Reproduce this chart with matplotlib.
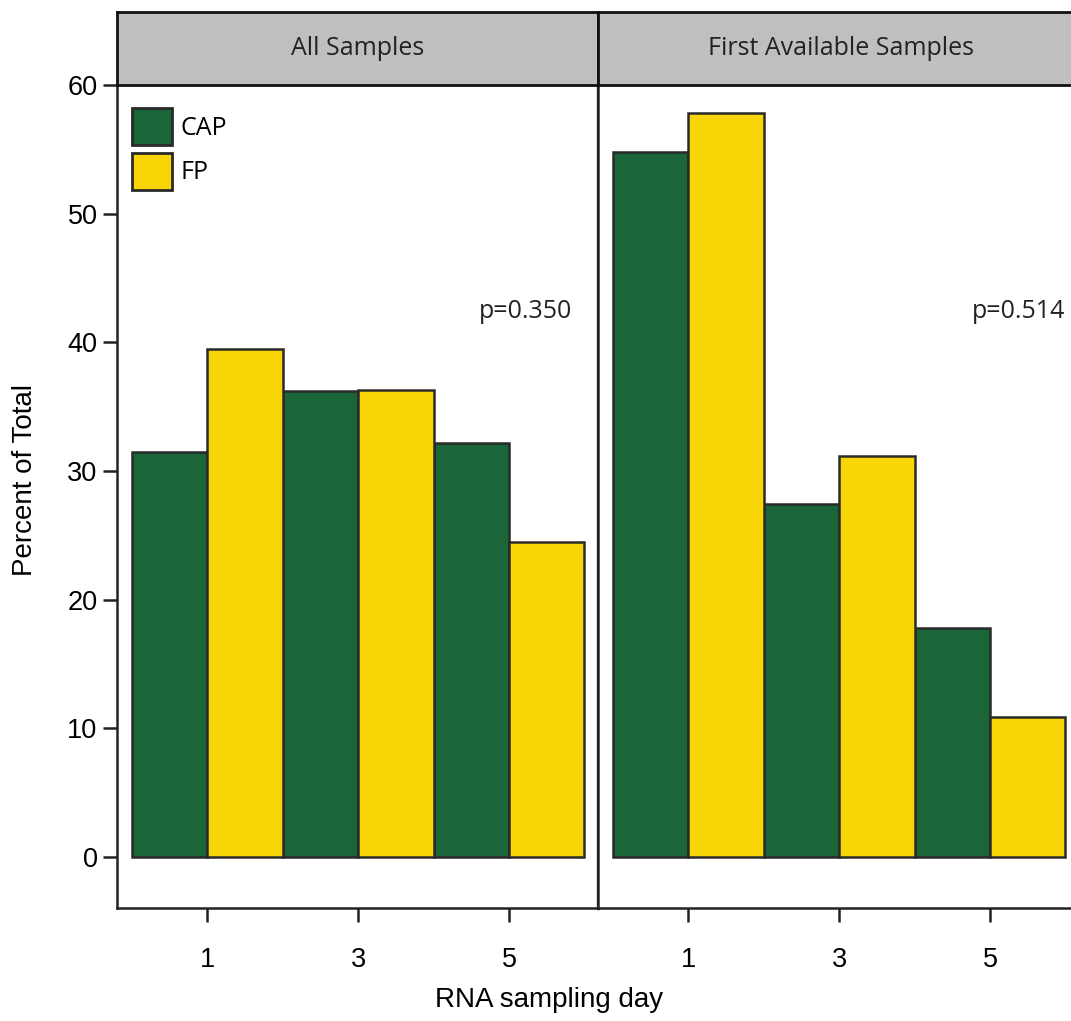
import numpy as np
import matplotlib
matplotlib.use("Agg")
import matplotlib.pyplot as plt
from matplotlib.patches import Patch

panels = ["All Samples", "First Available Samples"]
days = [1, 3, 5]
cap_all = [31.5, 36.2, 32.2]
fp_all = [39.5, 36.3, 24.5]
cap_first = [54.8, 27.4, 17.8]
fp_first = [57.8, 31.2, 10.9]
pvals = ["p=0.350", "p=0.514"]

green = "#1a6638"
yellow = "#f8d507"
edge = "#2a2a2a"
strip_gray = "#bfbfbf"

W, H = 1071, 1021
fig = plt.figure(figsize=(W / 100, H / 100), dpi=100)

ax_w = 481 / W
ax_b = (H - 908) / H
ax_h = 823 / H
lefts = [117 / W, 598 / W]
strip_b = (H - 85) / H
strip_h = 73 / H

tickfont = "Liberation Sans"
textfont = "Open Sans"

data = [(cap_all, fp_all), (cap_first, fp_first)]
for i, (cap, fp) in enumerate(data):
    ax = fig.add_axes([lefts[i], ax_b, ax_w, ax_h])
    x = np.array(days, dtype=float)
    ax.bar(x - 0.5, cap, width=1.0, color=green, edgecolor=edge, linewidth=1.8)
    ax.bar(x + 0.5, fp, width=1.0, color=yellow, edgecolor=edge, linewidth=1.8)
    ax.set_xlim(-0.2, 6.18)
    ax.set_ylim(-3.96, 60)
    ax.set_xticks(days)
    ax.set_xticklabels([str(d) for d in days], fontsize=19.5, family=tickfont)
    ax.tick_params(axis="x", length=10, width=1.8, pad=18, color="#222222")
    ax.spines["top"].set_visible(False)
    for s in ["left", "bottom", "right"]:
        ax.spines[s].set_linewidth(1.8)
        ax.spines[s].set_color("#222222")
    if i == 0:
        ax.set_yticks([0, 10, 20, 30, 40, 50, 60])
        ax.set_yticklabels([str(v) for v in [0, 10, 20, 30, 40, 50, 60]],
                           fontsize=19.5, family=tickfont)
        ax.tick_params(axis="y", length=10, width=1.8, pad=4, color="#222222")
        ax.set_ylabel("Percent of Total", fontsize=20, family=tickfont)
        ax.yaxis.set_label_coords(-0.164, 0.52)
        handles = [Patch(facecolor=green, edgecolor=edge, linewidth=2.0, label="CAP"),
                   Patch(facecolor=yellow, edgecolor=edge, linewidth=2.0, label="FP")]
        ax.legend(handles=handles, loc="upper left", frameon=False,
                  prop={"family": textfont, "size": 18},
                  handlelength=1.6, handleheight=1.9, handletextpad=0.35,
                  labelspacing=0.3, borderaxespad=0.0, borderpad=0.0,
                  bbox_to_anchor=(0.031, 0.972))
        ax.spines["right"].set_linewidth(2.4)
    else:
        ax.set_yticks([])
    ax.text(6.0 if i == 1 else 5.84, 42.4, pvals[i], ha="right", va="center",
            fontsize=18, family=textfont, color="#222222")

    # strip header
    sax = fig.add_axes([lefts[i], strip_b, ax_w, strip_h])
    sax.set_xlim(0, 1)
    sax.set_ylim(0, 1)
    sax.set_facecolor(strip_gray)
    sax.set_xticks([])
    sax.set_yticks([])
    for s in sax.spines.values():
        s.set_linewidth(2.0)
        s.set_color("#111111")
    sax.text(0.5 if i == 0 else 0.505, 0.5, panels[i], ha="center", va="center",
             fontsize=18, family=textfont, color="#222222")

fig.text(549 / W, 1 - 1000 / H, "RNA sampling day", ha="center", va="center",
         fontsize=20, family=tickfont)

fig.savefig("out.png", dpi=100)
